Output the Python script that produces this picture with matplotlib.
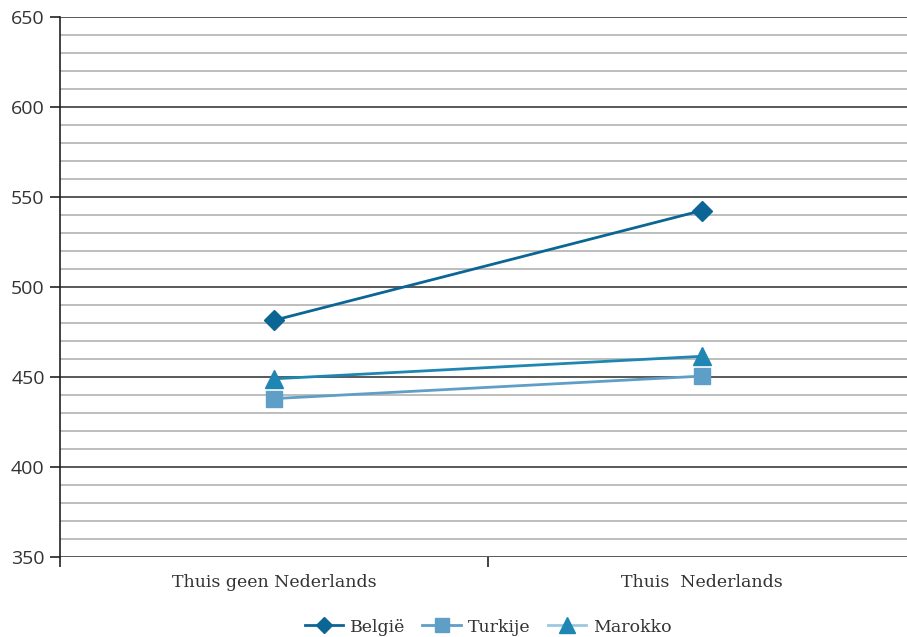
import matplotlib.pyplot as plt
from matplotlib.ticker import MultipleLocator, FixedLocator

# data
categories = ['Thuis geen Nederlands', 'Thuis  Nederlands']
belgie = [481.5, 542.5]
turkije = [438.0, 450.5]
marokko = [449.0, 461.5]

fig = plt.figure(figsize=(9.07, 6.37), dpi=100)
ax = fig.add_axes([60 / 907, 1 - 557 / 637, 856 / 907, 540 / 637])

x = range(len(categories))
ax.plot(x, belgie, color='#0b6696', lw=2, marker='D', ms=10, label='België', zorder=5)
ax.plot(x, turkije, color='#5f9fc7', lw=2, marker='s', ms=12, label='Turkije', zorder=4)
ax.plot(x, marokko, color='#1f86b3', lw=2, marker='^', ms=13, label='Marokko', zorder=4)

ax.set_xlim(-0.5, 1.5)
ax.set_ylim(350, 650)

# grid: light minor lines every 10, dark major lines every 50
ax.yaxis.set_major_locator(MultipleLocator(50))
ax.yaxis.set_minor_locator(MultipleLocator(10))
ax.grid(axis='y', which='minor', color='#ababab', lw=1.1)
ax.grid(axis='y', which='major', color='#3c3c3c', lw=1.2)
ax.set_axisbelow(True)

for s in ['top', 'right', 'bottom']:
    ax.spines[s].set_visible(False)
ax.spines['left'].set_color('#222222')
ax.spines['left'].set_linewidth(1.2)

ax.tick_params(axis='y', which='major', length=7, width=1.2, color='#222222',
               labelsize=14, labelcolor='#333333', pad=4)
ax.tick_params(axis='y', which='minor', length=0)
for lbl in ax.get_yticklabels():
    lbl.set_family('Open Sans')

ax.set_xticks([-0.5, 0.5, 1.5])
ax.set_xticklabels([])
ax.xaxis.set_minor_locator(FixedLocator([0, 1]))
ax.set_xticklabels(categories, minor=True, family='DejaVu Serif', fontsize=12.5, color='#333333')
ax.tick_params(axis='x', which='major', length=7, width=1.2, color='#222222')
ax.tick_params(axis='x', which='minor', length=0, pad=12)

leg = ax.legend(loc='upper center', bbox_to_anchor=(0.5, -0.085), ncol=3, frameon=False,
                prop={'family': 'DejaVu Serif', 'size': 12.5}, handlelength=2.2,
                columnspacing=1.0, handletextpad=0.4, markerscale=0.85)
for t in leg.get_texts():
    t.set_color('#333333')
mline = leg.get_lines()[2]
mline.set_color('#9cc8e0')
mline.set_markerfacecolor('#1f86b3')
mline.set_markeredgecolor('#1f86b3')

fig.savefig('out.png', dpi=100)
